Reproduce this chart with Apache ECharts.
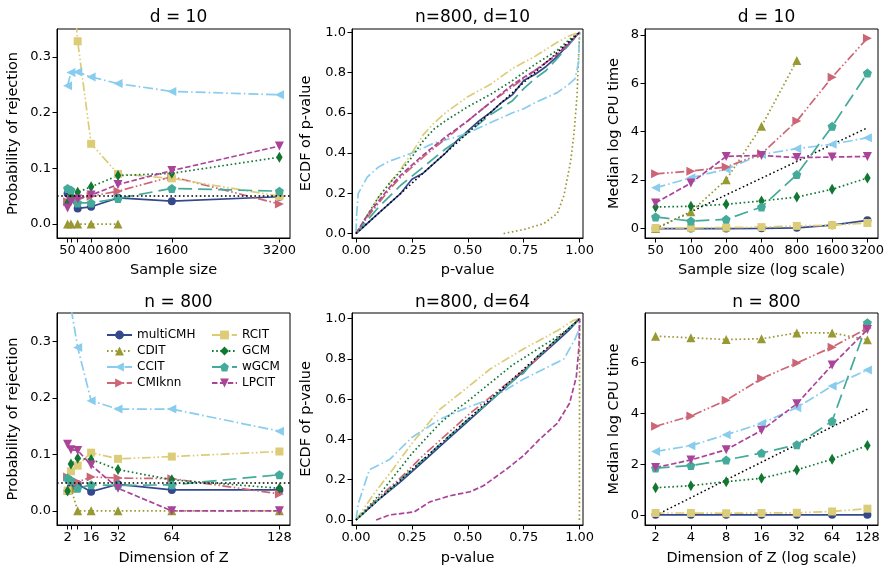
<!DOCTYPE html>
<html>
<head>
<meta charset="utf-8">
<script src="https://cdn.jsdelivr.net/npm/echarts@6/dist/echarts.min.js"></script>
<style>html,body{margin:0;background:#fff}#main{width:890px;height:576px}</style>
</head>
<body>
<div id="main"></div>
<script>
// methods, in legend order
const methods = ['multiCMH', 'CDIT', 'CCIT', 'CMIknn', 'RCIT', 'GCM', 'wGCM', 'LPCIT'];
const colors = ['#34498c', '#999933', '#88ccee', '#cc6677', '#ddcc77', '#117733', '#44aa99', '#aa4499'];

const sampleSizes = [50, 100, 200, 400, 800, 1600, 3200];
const sizeLabels = [50, 400, 800, 1600, 3200];
const dimsZ = [2, 4, 8, 16, 32, 64, 128];
const dimLabels = [2, 16, 32, 64, 128];
const alphaLevel = 0.05;
const diagRef = [0, 1];
const logTimeRef = [0, 0.69, 1.39, 2.08, 2.77, 3.47, 4.16]; // ln(x / x0)

// probability of rejection vs sample size (d = 10), rows follow `methods`
const rejBySize = [
  [0.055, 0.045, 0.028, 0.031, 0.047, 0.041, 0.049],
  [0, 0, 0, 0, 0, null, null],
  [0.248, 0.272, 0.273, 0.264, 0.252, 0.238, 0.232],
  [0.040, 0.045, 0.045, 0.050, 0.059, 0.085, 0.036],
  [0.50, 0.48, 0.328, 0.144, 0.090, 0.082, 0.050],
  [0.038, 0.050, 0.057, 0.067, 0.087, 0.091, 0.120],
  [0.064, 0.061, 0.038, 0.038, 0.046, 0.064, 0.059],
  [0.029, 0.040, 0.045, 0.052, 0.071, 0.096, 0.140]
];

// probability of rejection vs dimension of Z (n = 800)
const rejByDim = [
  [0.035, 0.042, 0.047, 0.034, 0.047, 0.037, 0.037],
  [0.037, 0.040, 0, 0, 0, 0, 0],
  [0.45, 0.36, 0.289, 0.195, 0.180, 0.180, 0.141],
  [0.060, 0.055, 0.051, 0.060, 0.058, 0.057, 0.030],
  [0.036, 0.070, 0.080, 0.103, 0.092, 0.096, 0.105],
  [0.035, 0.083, 0.093, 0.091, 0.073, 0.055, 0.040],
  [0.058, 0.054, 0.040, 0.046, 0.045, 0.046, 0.064],
  [0.118, 0.108, 0.107, 0.081, 0.040, 0, 0]
];

// median log CPU time vs sample size (d = 10)
const timeBySize = [
  [0.00, 0.00, 0.00, 0.01, 0.03, 0.14, 0.34],
  [0.00, 0.69, 2.02, 4.22, 6.94, null, null],
  [1.68, 2.10, 2.45, 3.06, 3.30, 3.48, 3.75],
  [2.26, 2.37, 2.54, 3.09, 4.44, 6.25, 7.86],
  [0.02, 0.03, 0.04, 0.06, 0.11, 0.14, 0.23],
  [0.89, 0.92, 1.00, 1.14, 1.30, 1.62, 2.09],
  [0.48, 0.31, 0.38, 0.89, 2.23, 4.22, 6.42],
  [1.06, 1.88, 2.98, 3.02, 2.93, 2.95, 2.98]
];

// median log CPU time vs dimension of Z (n = 800)
const timeByDim = [
  [0.02, 0.02, 0.02, 0.02, 0.02, 0.02, 0.02],
  [7.02, 6.96, 6.89, 6.92, 7.15, 7.15, 6.88],
  [2.50, 2.73, 3.16, 3.60, 4.22, 5.07, 5.70],
  [3.49, 3.89, 4.51, 5.36, 5.97, 6.59, 7.34],
  [0.09, 0.09, 0.08, 0.09, 0.10, 0.15, 0.26],
  [1.08, 1.16, 1.32, 1.45, 1.78, 2.20, 2.74],
  [1.85, 1.95, 2.17, 2.44, 2.77, 3.69, 7.55],
  [1.87, 2.17, 2.57, 3.33, 4.37, 5.89, 7.28]
];

// ECDF of p-values, n=800, d=10: [p, F(p)]
const ecdfD10 = [
  [[0,0],[0.05,0.05],[0.1,0.1],[0.15,0.15],[0.2,0.2],[0.25,0.27],[0.3,0.3],[0.35,0.35],[0.4,0.4],[0.45,0.46],[0.5,0.51],[0.55,0.56],[0.6,0.6],[0.65,0.65],[0.7,0.69],[0.75,0.76],[0.8,0.79],[0.85,0.83],[0.9,0.88],[0.95,0.94],[1,1]],
  [[0.66,0],[0.75,0.02],[0.84,0.05],[0.9,0.1],[0.93,0.19],[0.96,0.36],[0.975,0.5],[0.988,0.68],[0.996,0.9],[1,1]],
  [[0,0],[0.003,0.1],[0.01,0.2],[0.05,0.28],[0.1,0.33],[0.15,0.36],[0.25,0.4],[0.35,0.45],[0.45,0.48],[0.5,0.5],[0.6,0.55],[0.7,0.6],[0.75,0.62],[0.8,0.65],[0.9,0.7],[0.95,0.74],[0.98,0.77],[0.995,0.85],[1,1]],
  [[0,0],[0.05,0.08],[0.1,0.15],[0.15,0.22],[0.2,0.28],[0.25,0.33],[0.3,0.38],[0.4,0.47],[0.5,0.56],[0.6,0.65],[0.7,0.73],[0.8,0.81],[0.9,0.89],[0.95,0.95],[1,1]],
  [[0,0],[0.05,0.09],[0.1,0.18],[0.15,0.25],[0.2,0.32],[0.25,0.4],[0.3,0.49],[0.35,0.55],[0.4,0.6],[0.5,0.68],[0.6,0.74],[0.7,0.82],[0.8,0.88],[0.9,0.95],[0.95,0.98],[1,1]],
  [[0,0],[0.05,0.09],[0.1,0.18],[0.15,0.25],[0.2,0.31],[0.25,0.38],[0.3,0.46],[0.35,0.52],[0.4,0.56],[0.5,0.63],[0.6,0.69],[0.7,0.76],[0.8,0.84],[0.9,0.91],[0.95,0.96],[1,1]],
  [[0,0],[0.1,0.13],[0.2,0.24],[0.3,0.33],[0.4,0.42],[0.5,0.5],[0.6,0.59],[0.7,0.66],[0.75,0.72],[0.8,0.77],[0.85,0.81],[0.9,0.87],[1,1]],
  [[0,0],[0.05,0.09],[0.1,0.16],[0.15,0.23],[0.2,0.29],[0.25,0.34],[0.3,0.39],[0.4,0.48],[0.5,0.56],[0.6,0.65],[0.7,0.74],[0.8,0.81],[0.9,0.89],[0.95,0.94],[1,1]]
];

// ECDF of p-values, n=800, d=64
const ecdfD64 = [
  [[0,0],[0.1,0.1],[0.2,0.19],[0.3,0.29],[0.4,0.39],[0.5,0.49],[0.6,0.59],[0.7,0.69],[0.8,0.79],[0.9,0.89],[0.95,0.94],[1,1]],
  [[0.999,0],[1,1]],
  [[0,0],[0.01,0.08],[0.06,0.25],[0.15,0.3],[0.25,0.41],[0.375,0.5],[0.5,0.56],[0.6,0.6],[0.75,0.7],[0.84,0.75],[0.93,0.8],[0.98,0.9],[0.995,0.94],[1,1]],
  [[0,0],[0.1,0.11],[0.2,0.21],[0.3,0.32],[0.4,0.42],[0.5,0.52],[0.6,0.61],[0.7,0.7],[0.8,0.79],[0.9,0.9],[1,1]],
  [[0,0],[0.08,0.13],[0.15,0.23],[0.25,0.38],[0.375,0.55],[0.5,0.66],[0.6,0.75],[0.75,0.85],[0.9,0.94],[0.97,0.99],[1,1]],
  [[0,0],[0.05,0.06],[0.1,0.12],[0.15,0.19],[0.2,0.26],[0.25,0.33],[0.3,0.39],[0.375,0.48],[0.45,0.55],[0.5,0.59],[0.6,0.68],[0.7,0.77],[0.8,0.84],[0.9,0.91],[0.95,0.95],[1,1]],
  [[0,0],[0.1,0.1],[0.2,0.2],[0.3,0.3],[0.4,0.4],[0.5,0.5],[0.6,0.59],[0.7,0.69],[0.75,0.73],[0.8,0.8],[0.9,0.9],[1,1]],
  [[0.09,0],[0.15,0.025],[0.26,0.04],[0.33,0.09],[0.42,0.12],[0.51,0.14],[0.57,0.17],[0.67,0.25],[0.75,0.32],[0.82,0.4],[0.9,0.48],[0.955,0.58],[0.985,0.71],[0.997,0.86],[1,1]]
];

const FONT = 'DejaVu Sans';
const LW = 1.7;
const DOT = [1.6, 2.6];
const dashes = [
  'solid',
  DOT,
  [10, 3, 1.6, 3],
  [9, 2.5, 1.6, 2.5, 1.6, 2.5],
  [9, 2.5, 1.6, 2.5, 1.6, 2.5],
  DOT,
  [14, 6],
  [5.5, 2.4]
];
const pentagon = 'path://M0,-1L0.951,-0.309L0.588,0.809L-0.588,0.809L-0.951,-0.309Z';
const symbols = [
  {symbol: 'circle', symbolSize: 8},
  {symbol: 'triangle', symbolSize: 9},
  {symbol: 'triangle', symbolSize: 9, symbolRotate: 90},
  {symbol: 'triangle', symbolSize: 9, symbolRotate: -90},
  {symbol: 'rect', symbolSize: 8},
  {symbol: 'diamond', symbolSize: [6.5, 11]},
  {symbol: pentagon, symbolSize: 9},
  {symbol: 'triangle', symbolSize: 9, symbolRotate: 180}
];

const grids = [
  {left: 57, top: 29, width: 233, height: 209},
  {left: 352, top: 29, width: 231, height: 209},
  {left: 645, top: 29, width: 233, height: 209},
  {left: 57, top: 313, width: 233, height: 212},
  {left: 352, top: 313, width: 231, height: 212},
  {left: 645, top: 313, width: 233, height: 212}
].map(g => ({...g, show: true, borderColor: '#000', borderWidth: 1, backgroundColor: 'transparent'}));

const txt = {color: '#000', fontFamily: FONT};

function axis(gi, min, max, ticks, labels, fmt, name, gap) {
  return {
    type: 'value', gridIndex: gi, min: min, max: max,
    name: name, nameLocation: 'middle', nameGap: gap,
    nameTextStyle: {...txt, fontSize: 14.5},
    splitLine: {show: false},
    axisLine: {show: true, onZero: false, lineStyle: {color: '#000'}},
    axisTick: {show: true, length: 4.5, lineStyle: {color: '#000'}, customValues: ticks},
    axisLabel: {...txt, fontSize: 13, margin: 6, customValues: labels || ticks, formatter: fmt}
  };
}

const idxTicks = [0, 1, 2, 3, 4, 5, 6];
const xAxes = [
  axis(0, -107.5, 3357.5, sampleSizes, sizeLabels, v => String(v), 'Sample size', 25),
  axis(1, -0.018, 1.015, [0, 0.25, 0.5, 0.75, 1], null, v => v.toFixed(2), 'p-value', 25),
  axis(2, -0.3, 6.3, idxTicks, null, v => String(sampleSizes[Math.round(v)]), 'Sample size (log scale)', 25),
  axis(3, -4.3, 134.3, dimsZ, dimLabels, v => String(v), 'Dimension of Z', 26),
  axis(4, -0.018, 1.015, [0, 0.25, 0.5, 0.75, 1], null, v => v.toFixed(2), 'p-value', 26),
  axis(5, -0.3, 6.3, idxTicks, null, v => String(dimsZ[Math.round(v)]), 'Dimension of Z (log scale)', 26)
];
const yAxes = [
  axis(0, -0.025, 0.35, [0, 0.1, 0.2, 0.3], null, v => v.toFixed(1), 'Probability of rejection', 36),
  axis(1, -0.022, 1.016, [0, 0.2, 0.4, 0.6, 0.8, 1], null, v => v.toFixed(1), 'ECDF of p-value', 38),
  axis(2, -0.39, 8.24, [0, 2, 4, 6, 8], null, v => String(v), 'Median log CPU time', 23),
  axis(3, -0.025, 0.35, [0, 0.1, 0.2, 0.3], null, v => v.toFixed(1), 'Probability of rejection', 36),
  axis(4, -0.025, 1.028, [0, 0.2, 0.4, 0.6, 0.8, 1], null, v => v.toFixed(1), 'ECDF of p-value', 38),
  axis(5, -0.38, 7.93, [0, 2, 4, 6], null, v => String(v), 'Median log CPU time', 23)
];

const refStyle = {color: '#000', width: 1.5, type: DOT};
const series = [];

function pairs(xs, ys) {
  const out = [];
  ys.forEach((y, i) => { if (y !== null) out.push([xs[i], y]); });
  return out;
}

function markerLines(gi, xs, table) {
  table.forEach((row, mi) => {
    series.push({
      type: 'line', name: methods[mi], xAxisIndex: gi, yAxisIndex: gi,
      data: pairs(xs, row), ...symbols[mi], showSymbol: true,
      itemStyle: {color: colors[mi]},
      lineStyle: {color: colors[mi], width: LW, type: dashes[mi]},
      animation: false
    });
  });
}

function ecdfLines(gi, table) {
  table.forEach((pts, mi) => {
    series.push({
      type: 'line', name: methods[mi], xAxisIndex: gi, yAxisIndex: gi,
      data: pts, showSymbol: false, symbol: 'none',
      lineStyle: {color: colors[mi], width: LW, type: dashes[mi]},
      animation: false
    });
  });
  series.push({
    type: 'line', name: 'ref', xAxisIndex: gi, yAxisIndex: gi,
    data: diagRef.map(v => [v, v]), showSymbol: false, symbol: 'none',
    lineStyle: refStyle, animation: false
  });
}

function alphaLine(gi) {
  series.push({
    type: 'line', name: 'ref', xAxisIndex: gi, yAxisIndex: gi, data: [],
    markLine: {silent: true, symbol: 'none', label: {show: false}, animation: false,
      lineStyle: refStyle, data: [{yAxis: alphaLevel}]}
  });
}

function timeRef(gi) {
  series.push({
    type: 'line', name: 'ref', xAxisIndex: gi, yAxisIndex: gi,
    data: logTimeRef.map((v, i) => [i, v]), showSymbol: false, symbol: 'none',
    lineStyle: refStyle, animation: false
  });
}

alphaLine(0);
markerLines(0, sampleSizes, rejBySize);
ecdfLines(1, ecdfD10);
timeRef(2);
markerLines(2, idxTicks, timeBySize);
alphaLine(3);
markerLines(3, dimsZ, rejByDim);
ecdfLines(4, ecdfD64);
timeRef(5);
markerLines(5, idxTicks, timeByDim);

const titles = [
  ['d = 10', 173.5, 4], ['n=800, d=10', 467.5, 4], ['d = 10', 761.5, 4],
  ['n = 800', 173.5, 289], ['n=800, d=64', 467.5, 289], ['n = 800', 761.5, 289]
].map(([t, x, y]) => ({text: t, left: x, top: y, textAlign: 'center',
  textStyle: {...txt, fontSize: 17, fontWeight: 'normal'}}));

const legendBase = {
  orient: 'vertical', itemWidth: 25, itemHeight: 11, itemGap: 4,
  textStyle: {...txt, fontSize: 12}, selectedMode: false
};

const chart = echarts.init(document.getElementById('main'));
chart.setOption({
  backgroundColor: '#fff',
  animation: false,
  title: titles,
  grid: grids,
  xAxis: xAxes,
  yAxis: yAxes,
  legend: [
    {...legendBase, left: 101, top: 324, data: methods.slice(0, 4)},
    {...legendBase, left: 206, top: 324, data: methods.slice(4)}
  ],
  series: series
});
</script>
</body>
</html>
